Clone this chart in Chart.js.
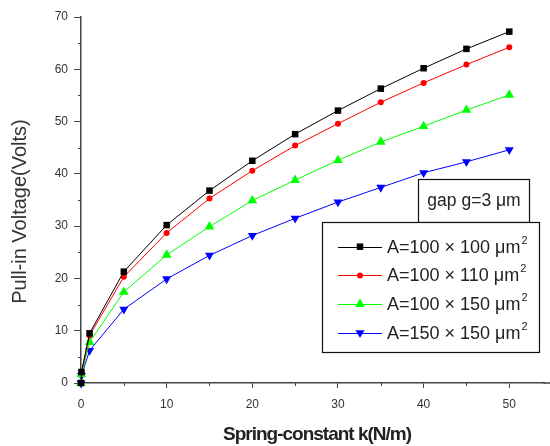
<!DOCTYPE html>
<html>
<head>
<meta charset="utf-8">
<script src="https://cdn.jsdelivr.net/npm/chart.js@4.4.0/dist/chart.umd.min.js"></script>
<style>
  html, body { margin: 0; padding: 0; background: #fff; }
  #wrap { width: 550px; height: 446px; }
</style>
</head>
<body>
<div id="wrap"><canvas id="myChart" width="550" height="446"></canvas></div>
<script>
// spring constant k (N/m)
const springK = [0, 0.05, 1, 5, 10, 15, 20, 25, 30, 35, 40, 45, 50];

// pull-in voltage (Volts) for each plate area
const area100x100 = [0, 2.1, 9.5, 21.3, 30.2, 36.8, 42.5, 47.6, 52.1, 56.3, 60.2, 63.9, 67.2];
const area100x110 = [0, 2.0, 9.1, 20.3, 28.7, 35.3, 40.6, 45.4, 49.6, 53.7, 57.4, 60.9, 64.2];
const area100x150 = [0, 1.7, 7.8, 17.4, 24.5, 29.9, 34.9, 38.8, 42.6, 46.1, 49.1, 52.2, 55.1];
const area150x150 = [0, 1.4, 6.2, 14.1, 19.9, 24.4, 28.2, 31.5, 34.6, 37.4, 40.2, 42.3, 44.6];

const seriesNames = ['A=100 × 100 μm', 'A=100 × 110 μm', 'A=100 × 150 μm', 'A=150 × 150 μm'];
const gapText = 'gap g=3 μm';
const xTitle = 'Spring-constant k(N/m)';
const yTitle = 'Pull-in Voltage(Volts)';

const FONT = '"Liberation Sans", Arial, sans-serif';

function toPoints(vals) {
  return springK.map((k, i) => ({x: k, y: vals[i]}));
}

const styles = [
  {color: '#000000', pointStyle: 'rect', radius: 4.6, rotation: 0},
  {color: '#ff0000', pointStyle: 'circle', radius: 3, rotation: 0},
  {color: '#00ff00', pointStyle: 'triangle', radius: 5.6, rotation: 0},
  {color: '#0000ff', pointStyle: 'triangle', radius: 5.2, rotation: 180}
];

const allSeries = [area100x100, area100x110, area100x150, area150x150];

const datasets = allSeries.map((vals, i) => ({
  label: seriesNames[i],
  data: toPoints(vals),
  borderColor: styles[i].color,
  backgroundColor: styles[i].color,
  borderWidth: 1,
  pointStyle: styles[i].pointStyle,
  pointRadius: styles[i].radius,
  pointRotation: styles[i].rotation,
  pointBorderWidth: 0,
  pointHoverRadius: styles[i].radius,
  tension: 0,
  clip: false
}));

// minor ticks, titles, text box and legend
const extrasPlugin = {
  id: 'extras',
  afterDraw(chart) {
    const ctx = chart.ctx;
    const xs = chart.scales.x, ys = chart.scales.y;
    const area = chart.chartArea;
    ctx.save();

    // x axis line runs on to the edge of the picture
    ctx.strokeStyle = '#444';
    ctx.lineWidth = 1.5;
    ctx.beginPath();
    ctx.moveTo(area.right - 1, area.bottom);
    ctx.lineTo(chart.width, area.bottom);
    ctx.stroke();

    // minor ticks
    ctx.lineWidth = 1;
    ctx.beginPath();
    for (let v = 5; v < xs.max; v += 10) {
      const px = Math.round(xs.getPixelForValue(v)) + 0.5;
      ctx.moveTo(px, area.bottom);
      ctx.lineTo(px, area.bottom + 3);
    }
    for (let v = 5; v < ys.max; v += 10) {
      const py = Math.round(ys.getPixelForValue(v)) + 0.5;
      ctx.moveTo(area.left, py);
      ctx.lineTo(area.left - 3, py);
    }
    ctx.stroke();

    // axis titles
    ctx.fillStyle = '#222';
    ctx.font = 'bold 19px ' + FONT;
    ctx.textAlign = 'center';
    ctx.textBaseline = 'alphabetic';
    ctx.letterSpacing = '-1px';
    ctx.fillText(xTitle, 317, 440);
    ctx.letterSpacing = '0px';

    ctx.save();
    ctx.translate(26, 211.5);
    ctx.rotate(-Math.PI / 2);
    ctx.font = '20px ' + FONT;
    ctx.fillStyle = '#333';
    ctx.fillText(yTitle, 0, 0);
    ctx.restore();

    // gap text box
    ctx.fillStyle = '#fff';
    ctx.strokeStyle = '#111';
    ctx.lineWidth = 1.2;
    ctx.fillRect(418.5, 179.5, 111, 43);
    ctx.strokeRect(418.5, 179.5, 111, 43);
    ctx.fillStyle = '#222';
    ctx.font = '17.5px ' + FONT;
    ctx.textAlign = 'center';
    ctx.textBaseline = 'middle';
    ctx.fillText(gapText, 474, 201);

    // legend box
    ctx.fillStyle = '#fff';
    ctx.fillRect(322.5, 222.5, 217, 130);
    ctx.strokeRect(322.5, 222.5, 217, 130);

    chart.data.datasets.forEach((ds, i) => {
      const y = 246.7 + i * 28.7;
      ctx.strokeStyle = ds.borderColor;
      ctx.fillStyle = ds.borderColor;
      ctx.lineWidth = 1;
      ctx.beginPath();
      ctx.moveTo(338, Math.round(y) + 0.5);
      ctx.lineTo(382, Math.round(y) + 0.5);
      ctx.stroke();
      Chart.helpers.drawPoint(ctx, {
        pointStyle: ds.pointStyle,
        radius: ds.pointRadius,
        rotation: ds.pointRotation,
        borderWidth: 0
      }, 360, y);

      ctx.fillStyle = '#222';
      ctx.font = '18px ' + FONT;
      ctx.textAlign = 'left';
      ctx.textBaseline = 'middle';
      ctx.fillText(ds.label, 387, y + 1);
      const w = ctx.measureText(ds.label).width;
      ctx.font = '11px ' + FONT;
      ctx.fillText('2', 387 + w + 1, y - 6);
    });

    ctx.restore();
  }
};

const ctx = document.getElementById('myChart').getContext('2d');
new Chart(ctx, {
  type: 'line',
  data: { datasets: datasets },
  plugins: [extrasPlugin],
  options: {
    responsive: false,
    animation: false,
    devicePixelRatio: 1,
    layout: { padding: { left: 0, top: 17, right: 0, bottom: 0 } },
    plugins: {
      legend: { display: false },
      tooltip: { enabled: false }
    },
    scales: {
      x: {
        type: 'linear',
        min: 0,
        max: 54.1,
        afterFit(scale) { scale.height = 63; },
        border: { display: true, color: '#444', width: 1.5 },
        grid: { display: true, drawOnChartArea: false, drawTicks: true, tickLength: 5, tickColor: '#444' },
        ticks: {
          stepSize: 10,
          includeBounds: false,
          padding: 9,
          color: '#333',
          font: { family: FONT, size: 12 }
        }
      },
      y: {
        min: 0,
        max: 70,
        afterFit(scale) { scale.width = 81; },
        border: { display: true, color: '#444', width: 1.5 },
        grid: { display: true, drawOnChartArea: false, drawTicks: true, tickLength: 7, tickColor: '#444' },
        ticks: {
          stepSize: 10,
          padding: 6,
          color: '#333',
          font: { family: FONT, size: 12 }
        }
      }
    }
  }
});
</script>
</body>
</html>
